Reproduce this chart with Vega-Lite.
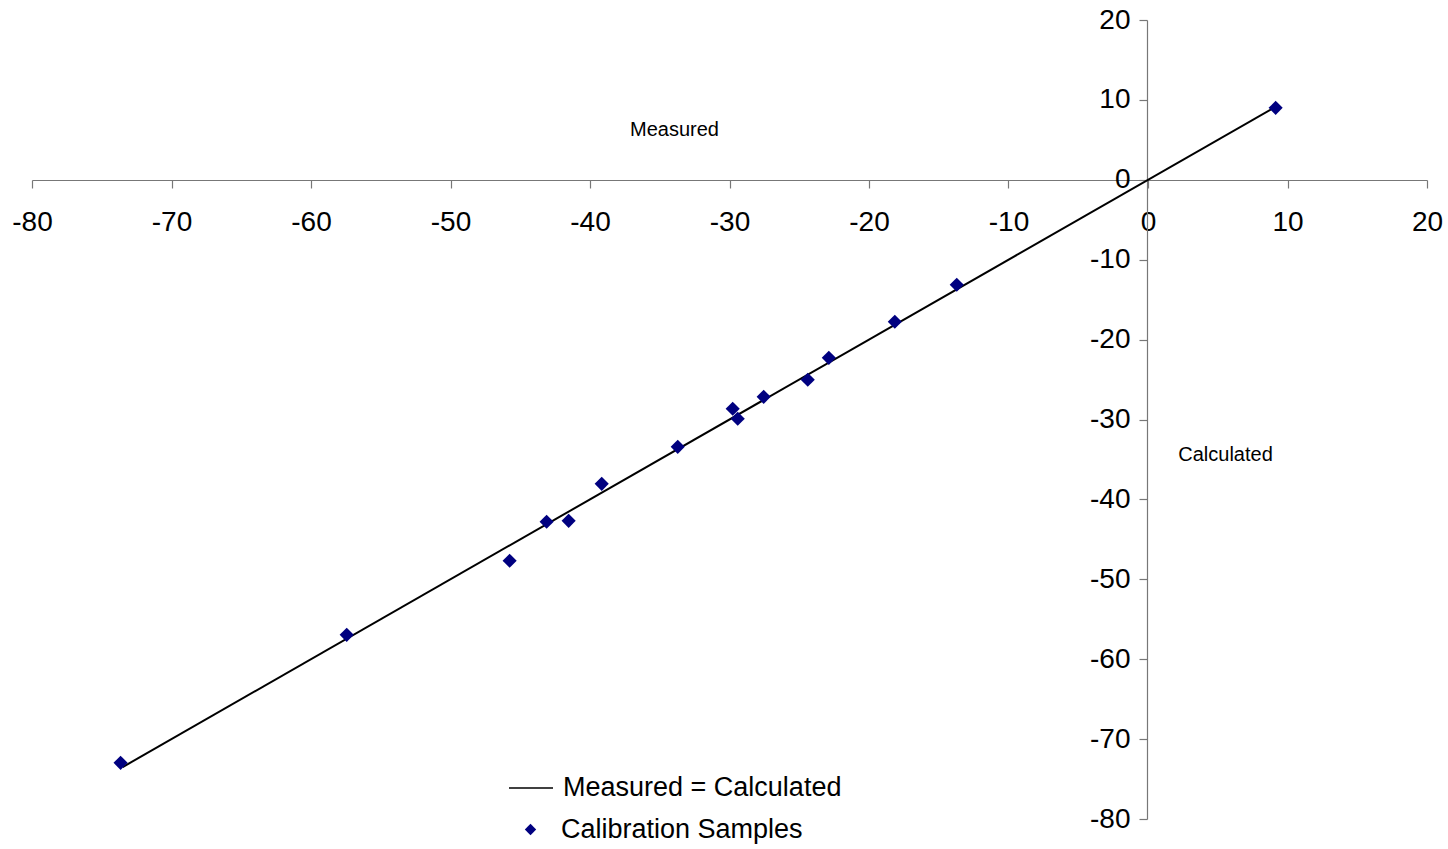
{
  "$schema": "https://vega.github.io/schema/vega-lite/v6.json",
  "autosize": "none",
  "width": 1395,
  "height": 799,
  "padding": {"left": 32, "top": 20, "right": 21, "bottom": 30},
  "background": "white",
  "config": {
    "view": {"stroke": null},
    "font": "Liberation Sans",
    "axis": {"grid": false, "domainColor": "#777777", "tickColor": "#777777", "domainWidth": 1.2, "tickWidth": 1.2, "labelColor": "black", "labelFont": "Liberation Sans", "labelFontSize": 28, "titleFont": "Liberation Sans", "titleFontSize": 20, "titleFontWeight": "normal", "titleColor": "black", "labelExpr": "datum.value + ''", "labelFlush": false, "labelOverlap": false},
    "legend": {"labelFont": "Liberation Sans", "labelFontSize": 27, "labelColor": "black", "padding": 0, "titlePadding": 0, "labelLimit": 600}
  },
  "datasets": {
    "samples": [
      {"measured": -73.65, "calculated": -72.97, "series": "Calibration Samples"},
      {"measured": -57.44, "calculated": -56.95, "series": "Calibration Samples"},
      {"measured": -45.76, "calculated": -47.68, "series": "Calibration Samples"},
      {"measured": -43.11, "calculated": -42.80, "series": "Calibration Samples"},
      {"measured": -41.53, "calculated": -42.68, "series": "Calibration Samples"},
      {"measured": -39.16, "calculated": -38.05, "series": "Calibration Samples"},
      {"measured": -33.71, "calculated": -33.42, "series": "Calibration Samples"},
      {"measured": -29.77, "calculated": -28.66, "series": "Calibration Samples"},
      {"measured": -29.41, "calculated": -29.91, "series": "Calibration Samples"},
      {"measured": -27.55, "calculated": -27.16, "series": "Calibration Samples"},
      {"measured": -24.39, "calculated": -25.03, "series": "Calibration Samples"},
      {"measured": -22.88, "calculated": -22.28, "series": "Calibration Samples"},
      {"measured": -18.15, "calculated": -17.77, "series": "Calibration Samples"},
      {"measured": -13.71, "calculated": -13.14, "series": "Calibration Samples"},
      {"measured": 9.15, "calculated": 9.01, "series": "Calibration Samples"}
    ],
    "identity": [
      {"measured": -73.5, "calculated": -73.5, "series": "Measured = Calculated"},
      {"measured": 9.1, "calculated": 9.1, "series": "Measured = Calculated"}
    ]
  },
  "layer": [
    {
      "data": {"name": "identity"},
      "mark": {"type": "line", "strokeWidth": 2},
      "encoding": {
        "x": {"field": "measured", "type": "quantitative", "scale": {"domain": [-80, 20], "nice": false, "zero": false},
          "axis": {"orient": "bottom", "offset": -639, "values": [-80, -70, -60, -50, -40, -30, -20, -10, 0, 10, 20], "tickSize": 8, "labelPadding": 20, "title": "Measured", "titleX": 642, "titleY": -51, "titleAlign": "center", "titleBaseline": "middle", "titleAnchor": null}},
        "y": {"field": "calculated", "type": "quantitative", "scale": {"domain": [-80, 20], "nice": false, "zero": false},
          "axis": {"orient": "left", "offset": -1115, "values": [-80, -70, -60, -50, -40, -30, -20, -10, 0, 10, 20], "tickSize": 8, "labelPadding": 9, "title": "Calculated", "titleAngle": 0, "titleX": 78, "titleY": 434, "titleAlign": "center", "titleBaseline": "middle", "titleAnchor": null}},
        "color": {"field": "series", "type": "nominal", "scale": {"domain": ["Measured = Calculated"], "range": ["black"]},
          "legend": {"title": null, "orient": "none", "legendX": 476, "legendY": 745, "symbolType": "stroke", "symbolSize": 1936, "symbolStrokeWidth": 1.5, "labelOffset": 9}}
      }
    },
    {
      "data": {"name": "samples"},
      "mark": {"type": "point", "filled": true, "shape": "diamond", "size": 200, "color": "#000080", "opacity": 1},
      "encoding": {
        "x": {"field": "measured", "type": "quantitative"},
        "y": {"field": "calculated", "type": "quantitative"},
        "shape": {"field": "series", "type": "nominal", "scale": {"domain": ["Calibration Samples"], "range": ["diamond"]},
          "legend": {"title": null, "orient": "none", "legendX": 485, "legendY": 796, "symbolSize": 130, "symbolFillColor": "#000080", "symbolStrokeWidth": 0, "symbolOpacity": 1, "labelOffset": 17}}
      }
    }
  ]
}
